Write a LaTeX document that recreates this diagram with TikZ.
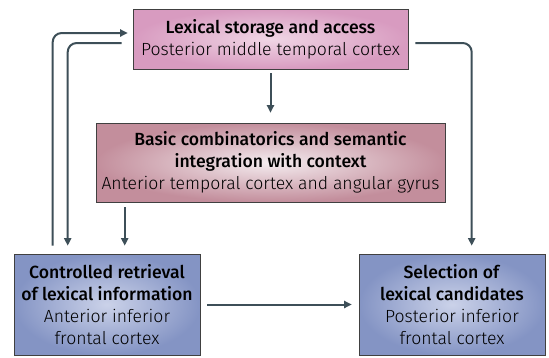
\documentclass[tikz,border=0pt]{standalone}
\usepackage{fontspec}
\setmainfont{Fira Sans Light}[BoldFont=Fira Sans Medium]
\usetikzlibrary{arrows.meta}
\definecolor{arrcol}{HTML}{3D4F58}
\definecolor{pinkout}{HTML}{D89BC0}
\definecolor{pinkin}{HTML}{F0D6E5}
\definecolor{roseout}{HTML}{C38E9C}
\definecolor{rosein}{HTML}{F4ECEF}
\definecolor{blueout}{HTML}{8494C4}
\definecolor{bluein}{HTML}{CBD2E9}
\begin{document}
\begin{tikzpicture}[x=1pt,y=-1pt]
		\tikzstyle{box}=[draw=black!75,line width=0.6pt,inner sep=0pt,align=center,font=\fontsize{17.6}{22}\selectfont]
		\tikzstyle{arr}=[draw=arrcol,line width=2pt,rounded corners=9pt,-{Triangle[length=7.5pt,width=7pt]}]
		\useasboundingbox (0,0) rectangle (549,357);
		\node [box,inner color=pinkin,outer color=pinkout,minimum width=275pt,minimum height=60pt] (lex) at (270.5,39) {\textbf{Lexical storage and access}\\Posterior middle temporal cortex};
		\node [box,inner color=rosein,outer color=roseout,minimum width=349pt,minimum height=79pt] (comb) at (270.5,162.5) {\textbf{Basic combinatorics and semantic}\\\textbf{integration with context}\\Anterior temporal cortex and angular gyrus};
		\node [box,inner color=bluein,outer color=blueout,minimum width=186pt,minimum height=101pt] (ctrl) at (107,304.5) {\textbf{Controlled retrieval}\\\textbf{of lexical information}\\Anterior inferior\\frontal cortex};
		\node [box,inner color=bluein,outer color=blueout,minimum width=186pt,minimum height=101pt] (sel) at (452,304.5) {\textbf{Selection of}\\\textbf{lexical candidates}\\Posterior inferior\\frontal cortex};
		% top down to middle, middle down to retrieval
		\draw [arr,shorten <=4pt,shorten >=10pt] (lex) -- (comb);
		\draw [arr] ([xshift=29pt,yshift=-5pt]comb.south west) -- ([xshift=111pt,yshift=8pt]ctrl.north west);
		% the two loops on the left
		\draw [arr] ([xshift=39pt,yshift=8pt]ctrl.north west) |- ([xshift=-5pt,yshift=6pt]lex.west);
		\draw [arr] ([xshift=-11pt,yshift=-4pt]lex.west) -| ([xshift=54pt,yshift=8pt]ctrl.north west);
		% right side and bottom
		\draw [arr] ([xshift=7pt,yshift=-4pt]lex.east) -| ([xshift=113pt,yshift=8pt]sel.north west);
		\draw [arr,shorten <=7pt,shorten >=7pt] (ctrl) -- (sel);
	\end{tikzpicture}
\end{document}
